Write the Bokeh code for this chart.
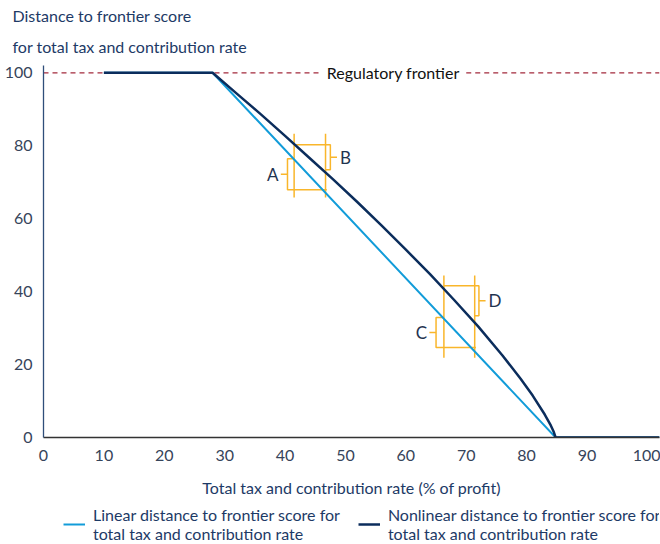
from bokeh.plotting import figure
from bokeh.layouts import column
from bokeh.models import Range1d, Legend, LegendItem, Title, FixedTicker
from bokeh.embed import file_html
from bokeh.resources import INLINE
from bokeh.core.properties import value

# ---- data ----
linear_x = [10, 28, 84.8, 102]
linear_y = [100, 100, 0, 0]

nonlin_x = [10, 28, 32, 36, 40, 44, 48, 52, 56, 60, 64, 68, 72, 76, 79, 81, 83, 84, 84.5, 84.8, 102]
nonlin_y = [100, 100, 94.3, 88.6, 82.7, 76.7, 70.7, 64.5, 58.1, 51.5, 44.8, 37.7, 30.4, 22.5, 16.1, 11.5, 6.3, 3.3, 1.5, 0, 0]

frontier_y = 100
frontier_label = "Regulatory frontier"
x_ticks = [0, 10, 20, 30, 40, 50, 60, 70, 80, 90, 100]
y_ticks = [0, 20, 40, 60, 80, 100]

# bracket pairs (x positions where score drops are compared) and their readings
ab_x = [41.5, 46.7]
ab_span = [65.8, 83.3]
cd_x = [66.3, 71.4]
cd_span = [21.9, 44.4]
# bracket levels: [top, bottom]
a_lvl = [76.4, 67.9]
b_lvl = [80.3, 73.4]
c_lvl = [32.9, 24.7]
d_lvl = [41.6, 33.4]

FONT = "Lato"
FS = "16px"
NAVY = "#0B2D5C"
LBLUE = "#129CD9"
ORANGE = "#F9B62B"
RED = "#A32A3C"
TXT = "#1D3A66"
TICK = "#36445A"

p = figure(width=660, height=467, output_backend="svg", toolbar_location=None,
           x_range=Range1d(0, 102), y_range=Range1d(0, 102),
           min_border_left=43, min_border_right=1, min_border_top=65, min_border_bottom=30)
p.outline_line_color = None
p.xgrid.visible = False
p.ygrid.visible = False
p.background_fill_color = "white"

t2 = Title(text="for total tax and contribution rate", align="left",
           text_font=FONT, text_font_size="16px", text_font_style="normal", text_color=TXT,
           offset=-31, standoff=20)
t1 = Title(text="Distance to frontier score", align="left",
           text_font=FONT, text_font_size="16px", text_font_style="normal", text_color=TXT,
           offset=-31, standoff=0)
p.add_layout(t2, "above")
p.add_layout(t1, "above")

for ax in (p.xaxis[0], p.yaxis[0]):
    ax.major_label_text_font = FONT
    ax.major_label_text_font_size = FS
    ax.major_label_text_color = TICK
    ax.major_tick_line_color = None
    ax.minor_tick_line_color = None

p.xaxis.axis_line_color = "#333333"
p.xaxis.axis_line_width = 1.5
p.yaxis.axis_line_color = "#2F4E7A"
p.yaxis.axis_line_width = 1.3
p.xaxis.ticker = FixedTicker(ticks=x_ticks)
p.yaxis.ticker = FixedTicker(ticks=y_ticks)
p.xaxis.major_label_standoff = 6
p.yaxis.major_label_standoff = 5

# regulatory frontier dashed line split around its label
p.segment(x0=[0, 70], y0=[frontier_y, frontier_y], x1=[45.9, 102], y1=[frontier_y, frontier_y],
          line_color=RED, line_width=1.2, line_dash="5 4")
p.text(x=[57.9], y=[frontier_y], text=[frontier_label], text_font=value(FONT),
       text_font_size="16px", text_color="#111111", text_align="center", text_baseline="middle")

# orange bracket guides
def vlines(xs, span):
    p.segment(x0=xs, y0=[span[0]] * 2, x1=xs, y1=[span[1]] * 2, line_color=ORANGE, line_width=1.5)

vlines(ab_x, ab_span)
vlines(cd_x, cd_span)

def left_bracket(xa, xb, lvl, bx, label):
    p.multi_line(xs=[[xa, bx, bx, xb + 0.2], [bx, bx - 1.1]],
                 ys=[[lvl[0], lvl[0], lvl[1], lvl[1]], [(lvl[0] + lvl[1]) / 2] * 2],
                 line_color=ORANGE, line_width=1.5)
    p.text(x=[bx - 1.5], y=[(lvl[0] + lvl[1]) / 2], text=[label], text_font=value(FONT),
           text_font_size="17px", text_color="#1F3350", text_align="right", text_baseline="middle")

def right_bracket(xa, xb, lvl, bx, label):
    p.multi_line(xs=[[xa, bx, bx, xb], [bx, bx + 1.1]],
                 ys=[[lvl[0], lvl[0], lvl[1], lvl[1]], [(lvl[0] + lvl[1]) / 2] * 2],
                 line_color=ORANGE, line_width=1.5)
    p.text(x=[bx + 1.6], y=[(lvl[0] + lvl[1]) / 2], text=[label], text_font=value(FONT),
           text_font_size="17px", text_color="#1F3350", text_align="left", text_baseline="middle")

left_bracket(ab_x[0], ab_x[1], a_lvl, 40.4, "A")
right_bracket(ab_x[0], ab_x[1], b_lvl, 47.5, "B")
left_bracket(cd_x[0], cd_x[1], c_lvl, 65.0, "C")
right_bracket(cd_x[0], cd_x[1], d_lvl, 72.1, "D")

r_lin = p.line(linear_x, linear_y, line_color=LBLUE, line_width=2)
r_non = p.line(nonlin_x, nonlin_y, line_color=NAVY, line_width=2.5)

# ---- strip below the chart: x-axis title and legend (same series, drawn out of view) ----
lg = figure(width=660, height=76, output_backend="svg", toolbar_location=None,
            x_range=Range1d(-10, -9), y_range=Range1d(-10, -9),
            min_border_left=43, min_border_right=1, min_border_top=36, min_border_bottom=0)
lg.axis.visible = False
lg.xgrid.visible = False
lg.ygrid.visible = False
lg.outline_line_color = None
lg.add_layout(Title(text="Total tax and contribution rate (% of profit)", align="center",
                    text_font=FONT, text_font_size=FS, text_font_style="normal", text_color=TXT,
                    offset=-18, standoff=17), "above")
l_lin = lg.line(linear_x, linear_y, line_color=LBLUE, line_width=2)
l_non = lg.line(nonlin_x, nonlin_y, line_color=NAVY, line_width=2.5)

legend = Legend(items=[
    LegendItem(label="Linear distance to frontier score for\ntotal tax and contribution rate", renderers=[l_lin]),
    LegendItem(label="Nonlinear distance to frontier score for\ntotal tax and contribution rate", renderers=[l_non]),
], orientation="horizontal", location=(20, 0))
legend.label_text_font = FONT
legend.label_text_font_size = FS
legend.label_text_color = TXT
legend.glyph_width = 22
legend.label_standoff = 8
legend.spacing = 18
legend.padding = 0
legend.margin = 0
legend.border_line_color = None
legend.background_fill_alpha = 0
lg.add_layout(legend)

layout = column(p, lg, spacing=0)
open("out.html", "w").write(file_html(layout, INLINE))
